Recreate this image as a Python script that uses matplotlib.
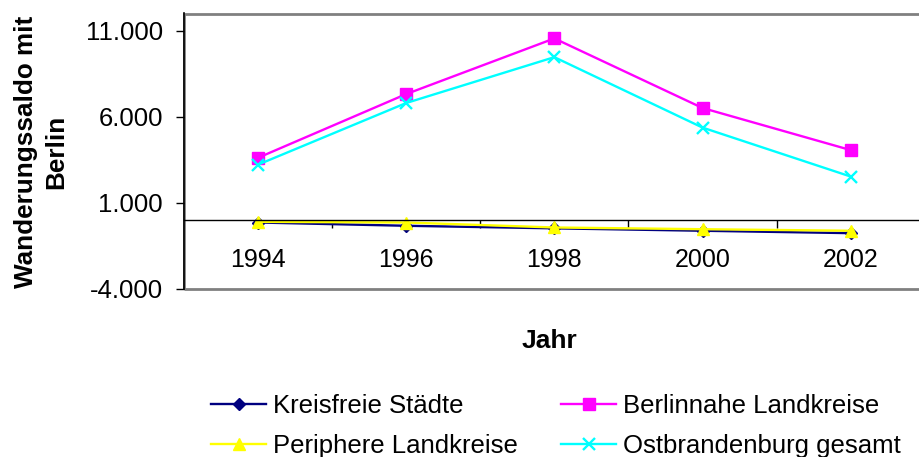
import numpy as np
import matplotlib
matplotlib.use("Agg")
import matplotlib.pyplot as plt
from matplotlib.ticker import FixedLocator, FuncFormatter
from matplotlib.patches import Rectangle

plt.rcParams['font.family'] = ['Liberation Sans', 'DejaVu Sans']

# Daten
jahre = ['1994', '1996', '1998', '2000', '2002']
kreisfreie = [-160, -350, -500, -640, -780]
berlinnahe = [3600, 7310, 10550, 6500, 4050]
periphere = [-120, -160, -450, -550, -640]
ostbrandenburg = [3200, 6790, 9460, 5360, 2510]

W, H = 920, 457
fig = plt.figure(figsize=(W / 100, H / 100), dpi=100)

# Plotbereich (rechts etwas ueber den Bildrand hinaus, wie im Original)
links, rechts, oben, unten = 183.7, 925, 13.5, 288.5
ax = fig.add_axes([links / W, 1 - unten / H, (rechts - links) / W, (unten - oben) / H])

x = np.arange(len(jahre))
lw = 1.7
l1, = ax.plot(x, kreisfreie, color='#000080', lw=lw, marker='D', ms=6, label='Kreisfreie Städte')
l2, = ax.plot(x, berlinnahe, color='#FF00FF', lw=lw, marker='s', ms=8, label='Berlinnahe Landkreise')
l3, = ax.plot(x, periphere, color='#FFFF00', lw=lw, marker='^', ms=9, label='Periphere Landkreise')
l4, = ax.plot(x, ostbrandenburg, color='#00FFFF', lw=lw, marker='x', ms=9, mew=1.7, label='Ostbrandenburg gesamt')

ax.set_xlim(-0.5, len(jahre) - 0.5)
ax.set_ylim(-4000, 12000)

# y-Achse
ax.yaxis.set_major_locator(FixedLocator([-4000, 1000, 6000, 11000]))
ax.yaxis.set_major_formatter(FuncFormatter(lambda v, p: f"{v:,.0f}".replace(",", ".")))
ax.tick_params(axis='y', direction='out', length=6, width=1, labelsize=18.5, pad=9)

# x-Achse auf der Nulllinie
ax.spines['bottom'].set_position(('data', 0))
ax.spines['bottom'].set_linewidth(1)
ax.xaxis.set_major_locator(FixedLocator(x[:-1] + 0.5))
ax.xaxis.set_major_formatter(FuncFormatter(lambda v, p: ''))
ax.set_xticks(x, jahre, minor=True)
ax.tick_params(axis='x', which='major', direction='out', length=6, width=1)
ax.tick_params(axis='x', which='minor', length=0, labelsize=18, pad=20.5)

ax.spines['top'].set_visible(False)
ax.spines['right'].set_visible(False)
ax.spines['left'].set_linewidth(1.2)

# grauer Rahmen des Plotbereichs
ax.add_patch(Rectangle((0, 0), 1, 1, transform=ax.transAxes, fill=False,
                       edgecolor='#808080', lw=2, clip_on=False, zorder=0))

fig.text(41 / W, 1 - 152 / H, 'Wanderungssaldo mit\nBerlin', rotation=90,
         ha='center', va='center', multialignment='center',
         fontsize=18.8, fontweight='bold', linespacing=1.3)
fig.text(549 / W, 1 - 341 / H, 'Jahr', ha='center', va='center',
         fontsize=19, fontweight='bold')

fig.legend(handles=[l1, l3, l2, l4], ncol=2, loc='upper left',
           bbox_to_anchor=(211 / W, 1 - 394 / H), frameon=False,
           fontsize=18.5, handlelength=2.15, handletextpad=0.25,
           columnspacing=1.7, labelspacing=0.62, borderpad=0, borderaxespad=0)

fig.savefig('out.png', dpi=100)
